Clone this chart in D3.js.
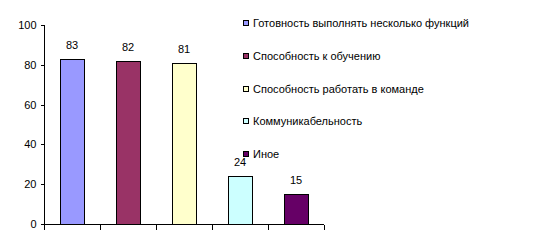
<!DOCTYPE html>
<html lang="ru">
<head>
<meta charset="utf-8">
<title>Chart</title>
<script src="https://d3js.org/d3.v7.min.js"></script>
<style>
  body { margin: 0; background: #fff; }
  text { font-family: "Liberation Sans", Arial, sans-serif; font-size: 11px; fill: #000; }
  .axis path, .axis line { stroke: #000; shape-rendering: crispEdges; }
</style>
</head>
<body>
<script>
const categories = ["Готовность выполнять несколько функций", "Способность к обучению",
  "Способность работать в команде", "Коммуникабельность", "Иное"];
const values = [83, 82, 81, 24, 15];
const colors = ["#9999FF", "#993366", "#FFFFCC", "#CCFFFF", "#660066"];
const yTicks = [0, 20, 40, 60, 80, 100];

const w = 556, h = 252;
const svg = d3.select("body").append("svg").attr("width", w).attr("height", h);

const x = d3.scaleBand().domain(categories).range([44, 324]).paddingInner(0.57).paddingOuter(0.285);
const y = d3.scaleLinear().domain([0, 100]).range([224, 25]);

// bars
svg.selectAll("rect.bar")
  .data(values)
  .enter()
  .append("rect")
  .attr("class", "bar")
  .attr("x", (d, i) => Math.round(x(categories[i])) + 0.5)
  .attr("y", d => Math.round(y(d)) + 0.5)
  .attr("width", Math.round(x.bandwidth()))
  .attr("height", d => y(0) - Math.round(y(d)))
  .attr("fill", (d, i) => colors[i])
  .attr("stroke", "#000");

// value labels
svg.selectAll("text.val")
  .data(values)
  .enter()
  .append("text")
  .attr("class", "val")
  .attr("x", (d, i) => x(categories[i]) + x.bandwidth() / 2)
  .attr("y", d => y(d) - 10)
  .attr("text-anchor", "middle")
  .text(d => d);

// y axis
const yAxis = d3.axisLeft(y).tickValues(yTicks).tickSize(4).tickPadding(4);
const gy = svg.append("g").attr("class", "axis").attr("transform", "translate(44.5,0)").call(yAxis);
gy.selectAll("text").style("font-family", "Liberation Sans, Arial, sans-serif").style("font-size", "11px");
gy.select(".domain").attr("d", "M0," + y(100) + "V" + y(0));

// x axis with category boundary ticks
const bounds = d3.range(categories.length + 1).map(i => 44 + i * 56);
const gx = svg.append("g").attr("class", "axis").attr("transform", "translate(0,224.5)");
gx.append("line").attr("x1", 44).attr("x2", 324).attr("stroke", "#000");
gx.selectAll("line.tk")
  .data(bounds)
  .enter()
  .append("line")
  .attr("class", "tk")
  .attr("x1", d => Math.round(d) + 0.5)
  .attr("x2", d => Math.round(d) + 0.5)
  .attr("y1", 0)
  .attr("y2", 5)
  .attr("stroke", "#000");

// legend
const legend = svg.append("g").attr("transform", "translate(243,23)");
const items = legend.selectAll("g")
  .data(categories)
  .enter()
  .append("g")
  .attr("transform", (d, i) => "translate(0," + Math.round(i * 32.8) + ")");
items.append("rect")
  .attr("x", 0.5).attr("y", -2.5)
  .attr("width", 5).attr("height", 5)
  .attr("fill", (d, i) => colors[i])
  .attr("stroke", "#000");
items.append("text")
  .attr("x", 10)
  .attr("y", 4)
  .text(d => d);
</script>
</body>
</html>
